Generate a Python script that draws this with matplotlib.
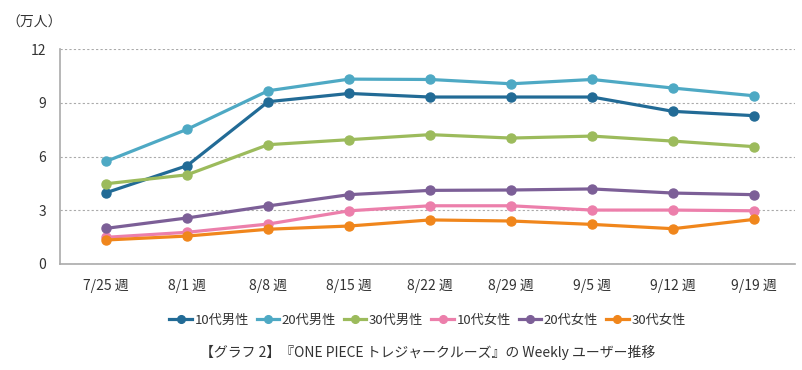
import matplotlib
matplotlib.use("Agg")
import matplotlib.pyplot as plt

plt.rcParams['font.family'] = ['Noto Sans CJK JP', 'DejaVu Sans']

weeks = ['7/25 週', '8/1 週', '8/8 週', '8/15 週', '8/22 週', '8/29 週', '9/5 週', '9/12 週', '9/19 週']

# 単位: 万人
male_10s = [3.98, 5.49, 9.06, 9.52, 9.32, 9.32, 9.32, 8.52, 8.28]
male_20s = [5.73, 7.52, 9.67, 10.32, 10.30, 10.06, 10.30, 9.82, 9.39]
male_30s = [4.48, 4.98, 6.66, 6.94, 7.22, 7.03, 7.14, 6.86, 6.55]
female_10s = [1.49, 1.77, 2.23, 2.97, 3.25, 3.25, 3.01, 3.01, 2.97]
female_20s = [1.99, 2.57, 3.24, 3.87, 4.11, 4.13, 4.19, 3.96, 3.87]
female_30s = [1.34, 1.56, 1.94, 2.12, 2.46, 2.40, 2.21, 1.97, 2.49]

series = [
    ('10代男性', male_10s, '#226b96'),
    ('20代男性', male_20s, '#4ea9c4'),
    ('30代男性', male_30s, '#9cbb5c'),
    ('10代女性', female_10s, '#ec7fab'),
    ('20代女性', female_20s, '#7c5f97'),
    ('30代女性', female_30s, '#f0861c'),
]

fig = plt.figure(figsize=(8.02, 3.70), dpi=100)
ax = fig.add_axes([0.0748, 0.2865, 0.916, 0.581])

x = range(len(weeks))
for name, vals, col in series:
    ax.plot(x, vals, color=col, lw=2.3, marker='o', ms=6.5, label=name)

ax.set_ylim(0, 12)
ax.set_xlim(-0.57, 8.5)
ax.set_yticks([0, 3, 6, 9, 12])
ax.set_xticks(list(x))
ax.set_xticklabels(weeks)
ax.tick_params(axis='both', length=0, labelsize=10, colors='#333333')
ax.tick_params(axis='x', pad=11)
ax.tick_params(axis='y', pad=10)
ax.yaxis.grid(True, linestyle=(0, (2, 2)), color='#aaaaaa', lw=0.8)
ax.set_axisbelow(True)
for s in ['top', 'right']:
    ax.spines[s].set_visible(False)
for s in ['left', 'bottom']:
    ax.spines[s].set_color('#aaaaaa')
    ax.spines[s].set_linewidth(1.2)

fig.text(0.008, 0.94, '（万人）', fontsize=10, color='#333333', va='center')

fig.legend(loc='center', bbox_to_anchor=(0.533, 0.135), ncol=6, frameon=False,
           fontsize=9.5, handlelength=1.7, handletextpad=0.2, columnspacing=0.6,
           markerscale=0.85, labelcolor='#333333')

fig.text(0.533, 0.048, '【グラフ 2】『ONE PIECE トレジャークルーズ』の Weekly ユーザー推移',
         ha='center', va='center', fontsize=10, color='#333333')

fig.savefig('out.png', dpi=100)
